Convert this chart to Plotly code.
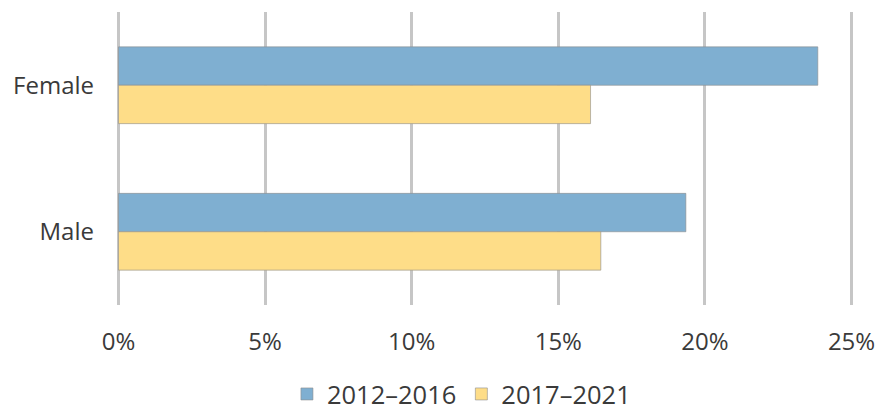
import plotly.graph_objects as go

categories = ["Female", "Male"]
series_names = ["2012–2016", "2017–2021"]
values_2012_2016 = [23.85, 19.35]
values_2017_2021 = [16.1, 16.45]
tick_vals = [0, 5, 10, 15, 20, 25]
tick_text = ["0%", "5%", "10%", "15%", "20%", "25%"]
colors = ["#7FAFD1", "#FEDD88"]

FONT = "Open Sans"
TXT = "#3a3a3a"

fig = go.Figure()
for name, vals, col in zip(series_names, [values_2012_2016, values_2017_2021], colors):
    fig.add_trace(go.Bar(
        y=categories, x=vals, name=name, orientation="h",
        marker=dict(color=col, line=dict(color="rgba(140,140,140,0.6)", width=1)),
        hoverinfo="skip",
    ))

fig.update_layout(
    width=876, height=409,
    margin=dict(l=116.5, r=23, t=12, b=104, autoexpand=False),
    paper_bgcolor="white", plot_bgcolor="white",
    barmode="group", bargap=0.476, bargroupgap=0,
    font=dict(family=FONT, color=TXT, size=24),
    showlegend=True,
    legend=dict(orientation="h", x=0.468, xanchor="center", y=-0.305, yanchor="middle",
                font=dict(size=25.5, color=TXT), traceorder="normal",
                itemwidth=30, tracegroupgap=0),
)
fig.update_xaxes(
    range=[-0.05, 25.05], tickvals=tick_vals, ticktext=tick_text,
    showgrid=True, gridcolor="#C6C6C6", gridwidth=2.5,
    zeroline=False, showline=False, ticks="", automargin=False,
    ticklabelstandoff=20, tickfont=dict(size=24, color=TXT),
)
fig.update_yaxes(
    autorange="reversed", showgrid=False, zeroline=False, showline=False, ticks="",
    automargin=False,
    ticklabelstandoff=22, tickfont=dict(size=24, color=TXT),
)
fig.write_html("out.html", config={"displayModeBar": False},
               post_script="document.body.style.margin='0';document.body.style.overflow='hidden';")
